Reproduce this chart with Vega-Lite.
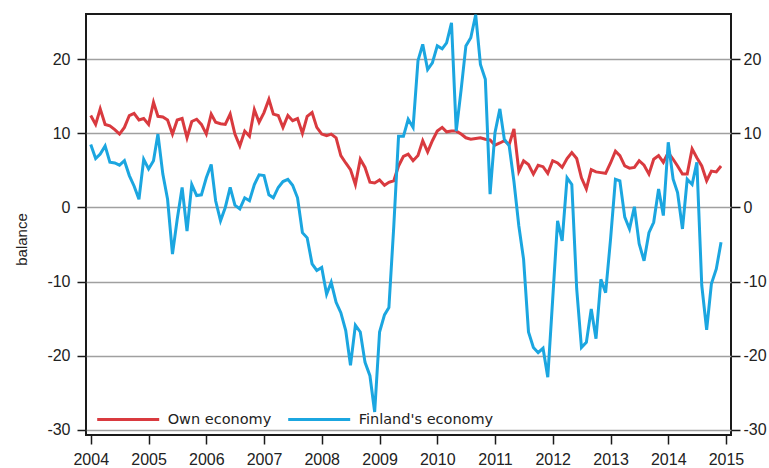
{
  "$schema": "https://vega.github.io/schema/vega-lite/v6.json",
  "width": 645,
  "height": 421,
  "autosize": "none",
  "padding": {"left": 86, "top": 14, "right": 38, "bottom": 33},
  "background": "white",
  "config": {
    "font": "Liberation Sans",
    "axis": {"labelFont": "Liberation Sans", "titleFont": "Liberation Sans"},
    "view": {"stroke": "#1a1a1a", "strokeWidth": 2}
  },
  "data": {"values": [
    {"d":"2004-01-01","own":12.4,"fin":8.5},{"d":"2004-02-01","own":11.2,"fin":6.6},{"d":"2004-03-01","own":13.3,"fin":7.2},{"d":"2004-04-01","own":11.2,"fin":8.3},{"d":"2004-05-01","own":11.0,"fin":6.1},{"d":"2004-06-01","own":10.5,"fin":6.0},{"d":"2004-07-01","own":9.9,"fin":5.7},{"d":"2004-08-01","own":10.8,"fin":6.3},{"d":"2004-09-01","own":12.4,"fin":4.3},{"d":"2004-10-01","own":12.7,"fin":2.9},{"d":"2004-11-01","own":11.8,"fin":1.1},{"d":"2004-12-01","own":12.0,"fin":6.5},
    {"d":"2005-01-01","own":11.2,"fin":5.2},{"d":"2005-02-01","own":14.2,"fin":6.3},{"d":"2005-03-01","own":12.3,"fin":9.9},{"d":"2005-04-01","own":12.2,"fin":4.5},{"d":"2005-05-01","own":11.8,"fin":1.1},{"d":"2005-06-01","own":9.9,"fin":-6.3},{"d":"2005-07-01","own":11.8,"fin":-1.6},{"d":"2005-08-01","own":12.0,"fin":2.7},{"d":"2005-09-01","own":9.4,"fin":-3.2},{"d":"2005-10-01","own":11.6,"fin":3.1},{"d":"2005-11-01","own":11.9,"fin":1.6},{"d":"2005-12-01","own":11.2,"fin":1.7},
    {"d":"2006-01-01","own":9.9,"fin":4.0},{"d":"2006-02-01","own":12.6,"fin":5.8},{"d":"2006-03-01","own":11.5,"fin":0.9},{"d":"2006-04-01","own":11.3,"fin":-1.8},{"d":"2006-05-01","own":11.2,"fin":0.0},{"d":"2006-06-01","own":12.6,"fin":2.7},{"d":"2006-07-01","own":9.9,"fin":0.3},{"d":"2006-08-01","own":8.3,"fin":-0.2},{"d":"2006-09-01","own":10.3,"fin":1.3},{"d":"2006-10-01","own":9.6,"fin":0.9},{"d":"2006-11-01","own":13.2,"fin":3.1},{"d":"2006-12-01","own":11.5,"fin":4.4},
    {"d":"2007-01-01","own":12.8,"fin":4.3},{"d":"2007-02-01","own":14.6,"fin":1.7},{"d":"2007-03-01","own":12.6,"fin":1.3},{"d":"2007-04-01","own":12.4,"fin":2.7},{"d":"2007-05-01","own":10.8,"fin":3.5},{"d":"2007-06-01","own":12.4,"fin":3.8},{"d":"2007-07-01","own":11.7,"fin":3.0},{"d":"2007-08-01","own":12.0,"fin":1.3},{"d":"2007-09-01","own":10.0,"fin":-3.4},{"d":"2007-10-01","own":12.3,"fin":-4.1},{"d":"2007-11-01","own":12.8,"fin":-7.6},{"d":"2007-12-01","own":10.8,"fin":-8.5},
    {"d":"2008-01-01","own":9.9,"fin":-8.1},{"d":"2008-02-01","own":9.7,"fin":-11.7},{"d":"2008-03-01","own":9.9,"fin":-10.1},{"d":"2008-04-01","own":9.4,"fin":-12.8},{"d":"2008-05-01","own":7.0,"fin":-14.2},{"d":"2008-06-01","own":6.0,"fin":-16.6},{"d":"2008-07-01","own":5.1,"fin":-21.3},{"d":"2008-08-01","own":3.1,"fin":-15.9},{"d":"2008-09-01","own":6.5,"fin":-16.8},{"d":"2008-10-01","own":5.4,"fin":-20.9},{"d":"2008-11-01","own":3.4,"fin":-22.7},{"d":"2008-12-01","own":3.3,"fin":-27.6},
    {"d":"2009-01-01","own":3.7,"fin":-16.8},{"d":"2009-02-01","own":3.0,"fin":-14.5},{"d":"2009-03-01","own":3.4,"fin":-13.5},{"d":"2009-04-01","own":3.6,"fin":-2.5},{"d":"2009-05-01","own":5.6,"fin":9.6},{"d":"2009-06-01","own":6.9,"fin":9.6},{"d":"2009-07-01","own":7.2,"fin":11.9},{"d":"2009-08-01","own":6.3,"fin":10.8},{"d":"2009-09-01","own":7.0,"fin":19.8},{"d":"2009-10-01","own":9.0,"fin":22.0},{"d":"2009-11-01","own":7.5,"fin":18.6},{"d":"2009-12-01","own":9.0,"fin":19.5},
    {"d":"2010-01-01","own":10.3,"fin":21.8},{"d":"2010-02-01","own":10.8,"fin":21.4},{"d":"2010-03-01","own":10.2,"fin":22.2},{"d":"2010-04-01","own":10.3,"fin":24.9},{"d":"2010-05-01","own":10.3,"fin":10.3},{"d":"2010-06-01","own":9.9,"fin":15.9},{"d":"2010-07-01","own":9.4,"fin":21.8},{"d":"2010-08-01","own":9.2,"fin":22.9},{"d":"2010-09-01","own":9.3,"fin":26.0},{"d":"2010-10-01","own":9.4,"fin":19.3},{"d":"2010-11-01","own":9.2,"fin":17.3},{"d":"2010-12-01","own":9.1,"fin":1.8},
    {"d":"2011-01-01","own":8.4,"fin":10.1},{"d":"2011-02-01","own":8.7,"fin":13.3},{"d":"2011-03-01","own":9.0,"fin":9.2},{"d":"2011-04-01","own":8.5,"fin":8.3},{"d":"2011-05-01","own":10.6,"fin":3.5},{"d":"2011-06-01","own":4.9,"fin":-2.5},{"d":"2011-07-01","own":6.3,"fin":-7.0},{"d":"2011-08-01","own":5.8,"fin":-16.8},{"d":"2011-09-01","own":4.5,"fin":-18.9},{"d":"2011-10-01","own":5.7,"fin":-19.6},{"d":"2011-11-01","own":5.5,"fin":-19.0},{"d":"2011-12-01","own":4.6,"fin":-22.9},
    {"d":"2012-01-01","own":6.3,"fin":-12.4},{"d":"2012-02-01","own":6.0,"fin":-1.8},{"d":"2012-03-01","own":5.4,"fin":-4.5},{"d":"2012-04-01","own":6.6,"fin":4.0},{"d":"2012-05-01","own":7.4,"fin":3.1},{"d":"2012-06-01","own":6.6,"fin":-11.0},{"d":"2012-07-01","own":4.0,"fin":-18.9},{"d":"2012-08-01","own":2.5,"fin":-18.2},{"d":"2012-09-01","own":5.1,"fin":-13.7},{"d":"2012-10-01","own":4.8,"fin":-17.7},{"d":"2012-11-01","own":4.7,"fin":-9.7},{"d":"2012-12-01","own":4.6,"fin":-11.5},
    {"d":"2013-01-01","own":6.0,"fin":-4.3},{"d":"2013-02-01","own":7.6,"fin":3.8},{"d":"2013-03-01","own":7.0,"fin":3.6},{"d":"2013-04-01","own":5.6,"fin":-1.3},{"d":"2013-05-01","own":5.3,"fin":-2.9},{"d":"2013-06-01","own":5.4,"fin":0.1},{"d":"2013-07-01","own":6.3,"fin":-4.9},{"d":"2013-08-01","own":5.7,"fin":-7.2},{"d":"2013-09-01","own":4.5,"fin":-3.4},{"d":"2013-10-01","own":6.5,"fin":-2.0},{"d":"2013-11-01","own":7.0,"fin":2.5},{"d":"2013-12-01","own":6.1,"fin":-1.1},
    {"d":"2014-01-01","own":7.4,"fin":8.8},{"d":"2014-02-01","own":6.5,"fin":3.8},{"d":"2014-03-01","own":5.6,"fin":2.0},{"d":"2014-04-01","own":4.5,"fin":-2.9},{"d":"2014-05-01","own":4.5,"fin":3.8},{"d":"2014-06-01","own":7.9,"fin":3.1},{"d":"2014-07-01","own":6.7,"fin":6.1},{"d":"2014-08-01","own":5.6,"fin":-10.5},{"d":"2014-09-01","own":3.6,"fin":-16.5},{"d":"2014-10-01","own":4.9,"fin":-10.3},{"d":"2014-11-01","own":4.8,"fin":-8.3},{"d":"2014-12-01","own":5.6,"fin":-4.7}
  ]},
  "encoding": {
    "x": {
      "field": "d", "type": "temporal",
      "scale": {"type": "utc", "domain": [{"year": 2003, "month": 12, "date": 2, "utc": true}, {"year": 2015, "month": 2, "date": 2, "utc": true}]},
      "axis": {
        "title": null, "format": "%Y", "formatType": "utc",
        "values": [{"year":2004,"utc":true},{"year":2005,"utc":true},{"year":2006,"utc":true},{"year":2007,"utc":true},{"year":2008,"utc":true},{"year":2009,"utc":true},{"year":2010,"utc":true},{"year":2011,"utc":true},{"year":2012,"utc":true},{"year":2013,"utc":true},{"year":2014,"utc":true},{"year":2015,"utc":true}],
        "grid": false, "domain": false, "tickColor": "#1a1a1a", "tickWidth": 1.5, "tickSize": 9,
        "labelFont": "Liberation Sans", "labelFontSize": 16, "labelColor": "#222", "labelPadding": 7, "labelFlush": false, "labelOverlap": false
      }
    }
  },
  "layer": [
    {
      "mark": {"type": "line", "strokeWidth": 3, "interpolate": "linear"},
      "encoding": {
        "y": {
          "field": "own", "type": "quantitative",
          "scale": {"domain": [-30.7, 26.1], "nice": false, "zero": false},
          "axis": {
            "orient": "left", "values": [-30, -20, -10, 0, 10, 20], "grid": true, "gridColor": "#a0a0a0", "gridWidth": 1.5,
            "domain": false, "tickColor": "#1a1a1a", "tickWidth": 1.5, "tickSize": 9,
            "labelExpr": "datum.value < 0 ? '-' + abs(datum.value) : '' + datum.value",
            "labelFont": "Liberation Sans", "labelFontSize": 16, "labelColor": "#222", "labelPadding": 7,
            "title": "balance", "titleFont": "Liberation Sans", "titleFontSize": 15, "titleFontWeight": "normal", "titleColor": "#222", "titlePadding": 17, "titleY": 225
          }
        },
        "color": {
          "datum": "Own economy",
          "scale": {"domain": ["Own economy", "Finland's economy"], "range": ["#d93a3f", "#1ba6e0"]},
          "legend": {
            "title": null, "orient": "none", "direction": "horizontal", "legendX": 9.7, "legendY": 373,
            "symbolType": "stroke", "symbolSize": 3844, "symbolStrokeWidth": 3,
            "labelFont": "DejaVu Sans", "labelFontSize": 14.5, "labelColor": "#222", "labelOffset": 7,
            "columnPadding": 10, "padding": 0
          }
        }
      }
    },
    {
      "mark": {"type": "line", "strokeWidth": 3, "interpolate": "linear"},
      "encoding": {
        "y": {"field": "fin", "type": "quantitative", "axis": null},
        "color": {"datum": "Finland's economy"}
      }
    },
    {
      "mark": {"type": "line", "strokeOpacity": 0},
      "encoding": {
        "y": {
          "field": "own", "type": "quantitative",
          "axis": {
            "orient": "right", "values": [-30, -20, -10, 0, 10, 20], "grid": false, "domain": false,
            "tickColor": "#1a1a1a", "tickWidth": 1.5, "tickSize": 9,
            "labelExpr": "datum.value < 0 ? '-' + abs(datum.value) : '' + datum.value",
            "labelFont": "Liberation Sans", "labelFontSize": 16, "labelColor": "#222", "labelPadding": 3, "title": null
          }
        }
      }
    }
  ],
  "resolve": {"axis": {"y": "independent"}}
}
